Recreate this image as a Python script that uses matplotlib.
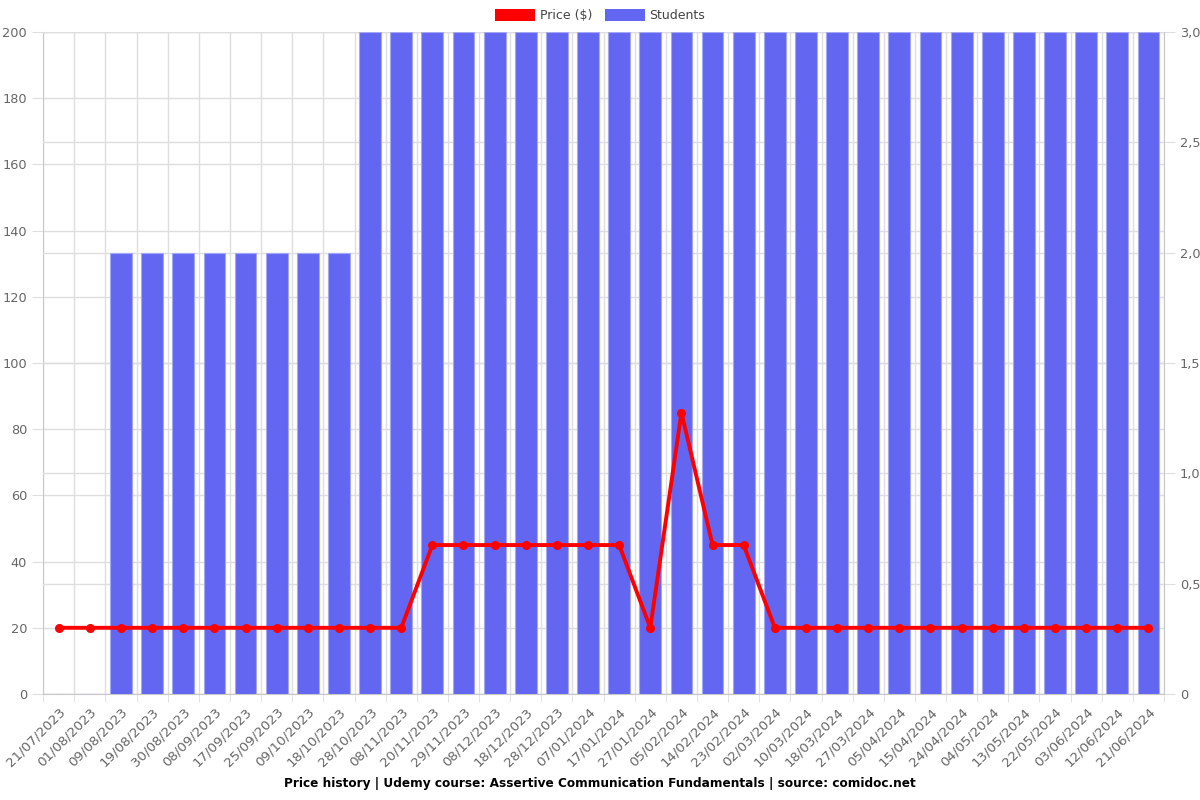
import numpy as np
import matplotlib.pyplot as plt
from matplotlib.patches import Patch
from matplotlib.ticker import FixedLocator, FuncFormatter

# dates on the x axis
dates = ['21/07/2023', '01/08/2023', '09/08/2023', '19/08/2023', '30/08/2023',
         '08/09/2023', '17/09/2023', '25/09/2023', '09/10/2023', '18/10/2023',
         '28/10/2023', '08/11/2023', '20/11/2023', '29/11/2023', '08/12/2023',
         '18/12/2023', '28/12/2023', '07/01/2024', '17/01/2024', '27/01/2024',
         '05/02/2024', '14/02/2024', '23/02/2024', '02/03/2024', '10/03/2024',
         '18/03/2024', '27/03/2024', '05/04/2024', '15/04/2024', '24/04/2024',
         '04/05/2024', '13/05/2024', '22/05/2024', '03/06/2024', '12/06/2024',
         '21/06/2024']

price = [20, 20, 20, 20, 20, 20, 20, 20, 20, 20, 20, 20,
         45, 45, 45, 45, 45, 45, 45, 20, 85, 45, 45,
         20, 20, 20, 20, 20, 20, 20, 20, 20, 20, 20, 20, 20]

students = [0, 0, 2, 2, 2, 2, 2, 2, 2, 2,
            3, 3, 3, 3, 3, 3, 3, 3, 3, 3, 3, 3, 3, 3, 3, 3,
            3, 3, 3, 3, 3, 3, 3, 3, 3, 3]

GRID = '#dedede'
TXT = '#666666'
x = np.arange(len(dates))

fig = plt.figure(figsize=(12, 8), dpi=100)
ax = fig.add_axes([0.036, 0.1325, 0.934, 0.8275])

# left axis: price scale + grid
ax.set_xlim(-0.5, len(dates) - 0.5)
ax.set_ylim(0, 200)
ax.set_yticks(range(0, 201, 20))
ax.yaxis.grid(True, color=GRID, linewidth=1)
ax.xaxis.set_major_locator(FixedLocator(x))
ax.xaxis.set_minor_locator(FixedLocator(np.arange(len(dates) + 1) - 0.5))
ax.xaxis.grid(True, which='minor', color=GRID, linewidth=1)
ax.set_xticklabels(dates, rotation=45, ha='right', rotation_mode='anchor',
                   fontsize=9.6, color=TXT)
ax.tick_params(axis='x', which='major', length=0, pad=8)
ax.tick_params(axis='x', which='minor', length=6, color=GRID)
ax.tick_params(axis='y', length=8, color=GRID, labelsize=9.3, labelcolor=TXT)
for s in ['top', 'right']:
    ax.spines[s].set_visible(False)
for s in ['left', 'bottom']:
    ax.spines[s].set_color('#c8c8c8')

# right axis: students bars
axs = ax.twinx()
axs.set_ylim(0, 3)
axs.set_yticks(np.arange(0, 3.01, 0.5))
axs.yaxis.set_major_formatter(FuncFormatter(
    lambda v, p: '0' if v == 0 else f'{v:.1f}'.replace('.', ',')))
axs.yaxis.grid(True, color=GRID, linewidth=1)
axs.set_axisbelow(True)
axs.bar(x, students, width=0.7, color='#6366f1', edgecolor='#a5a8f7',
        linewidth=0.8, zorder=2)
axs.tick_params(axis='y', length=8, color=GRID, labelsize=9.3, labelcolor=TXT)
for s in ['top', 'left', 'bottom']:
    axs.spines[s].set_visible(False)
axs.spines['right'].set_color('#c8c8c8')

# price line on top
axl = ax.twinx()
axl.set_ylim(0, 200)
axl.axis('off')
axl.plot(x, price, color='#ff0000', linewidth=2.8, marker='o',
         markersize=5.5, clip_on=False)

handles = [Patch(facecolor='#ff0000', label='Price ($)'),
           Patch(facecolor='#6366f1', label='Students')]
fig.legend(handles=handles, loc='upper center', bbox_to_anchor=(0.5, 1.003),
           ncol=2, frameon=False, fontsize=9, handlelength=3.2,
           handleheight=1.1, columnspacing=1.0, handletextpad=0.4,
           labelcolor='#444444')

fig.text(0.5, 0.021, 'Price history | Udemy course: Assertive Communication '
         'Fundamentals | source: comidoc.net', ha='center', va='center',
         fontsize=8.7, fontweight='bold')

fig.savefig('out.png', dpi=100)
